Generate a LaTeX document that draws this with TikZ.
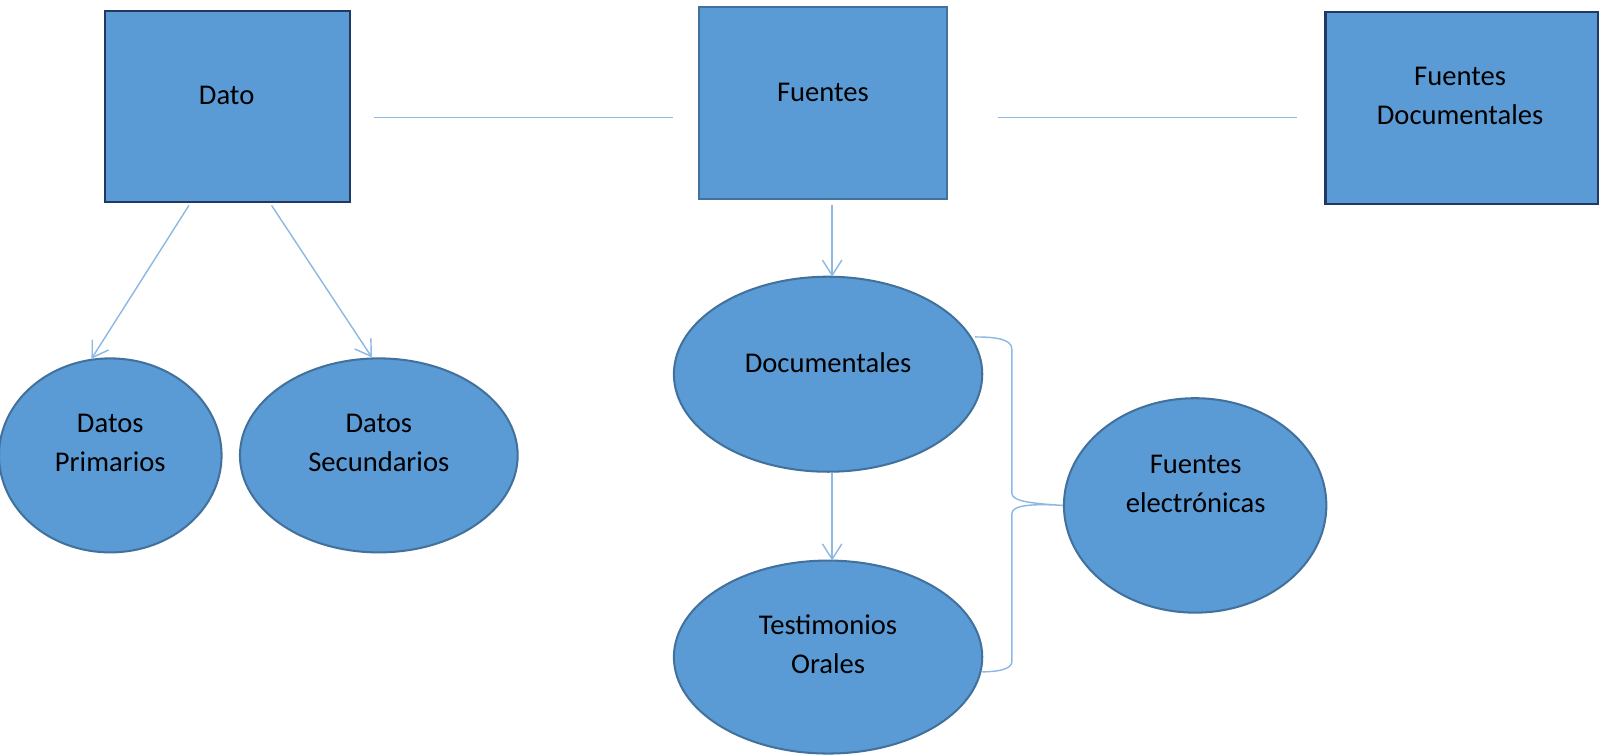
\documentclass[tikz,border=0pt]{standalone}
\usepackage{fontspec}
\setmainfont{Carlito}
\usetikzlibrary{shapes.geometric,arrows.meta}
\definecolor{fillb}{HTML}{5B9BD5}
\definecolor{edgeb}{HTML}{41719C}
\definecolor{darkb}{HTML}{1F3864}
\definecolor{connb}{HTML}{8DB8E3}
\begin{document}
\begin{tikzpicture}[x=1pt,y=-1pt,
  darkbox/.style={draw=darkb,line width=2.4pt,fill=fillb,rectangle,inner sep=0pt},
  midbox/.style={draw=edgeb,line width=2pt,fill=fillb,rectangle,inner sep=0pt},
  oval/.style={draw=edgeb,line width=2pt,fill=fillb,ellipse,inner sep=0pt},
  txt/.style={font=\fontsize{28}{38}\selectfont,align=center,text=black,inner sep=0pt},
  conn/.style={draw=connb,line width=1.4pt},
  arr/.style={conn,-{Straight Barb[length=15pt,width=19pt,line width=1.4pt]}}]
\useasboundingbox (0,0) rectangle (1568,740);
% boxes
\node[darkbox,minimum width=240pt,minimum height=187pt] (dato) at (223,104.5) {};
\node[midbox,minimum width=242pt,minimum height=188pt] (fuentes) at (806,101) {};
\node[darkbox,minimum width=267pt,minimum height=188pt] (fdoc) at (1431.5,106) {};
% ellipses
\node[oval,minimum width=218pt,minimum height=190pt] (prim) at (108,446) {};
\node[oval,minimum width=272pt,minimum height=190pt] (secu) at (371,446) {};
\node[oval,minimum width=302pt,minimum height=191pt] (docu) at (811,366.5) {};
\node[oval,minimum width=302pt,minimum height=189pt] (test) at (811,643.5) {};
\node[oval,minimum width=257pt,minimum height=210pt] (elec) at (1170.5,495) {};
% texts
\node[txt] (datoT) at (222,93) {Dato};
\node[txt] (fuentesT) at (806,91) {Fuentes};
\node[txt] (fdocT) at (1430,94) {Fuentes\\Documentales};
\node[txt] (primT) at (108,434) {Datos\\Primarios};
\node[txt] (secuT) at (371,434) {Datos\\Secundarios};
\node[txt] (docuT) at (811,355) {Documentales};
\node[txt] (testT) at (811,631) {Testimonios\\Orales};
\node[txt] (elecT) at (1171,474) {Fuentes\\electrónicas};
% horizontal lines
\draw[conn] ([xshift=22pt,yshift=-10.5pt]dato.east) -- ([xshift=-25pt,yshift=-14pt]fuentes.west);
\draw[conn] ([xshift=49pt,yshift=-14pt]fuentes.east) -- ([xshift=-27pt,yshift=-9pt]fdoc.west);
% arrows
\draw[arr] ([xshift=-38pt,yshift=-2pt]dato.south) -- (prim.101);
\draw[arr] ([xshift=43pt,yshift=-2pt]dato.south) -- (secu.94);
\draw[arr] ([xshift=9pt,yshift=-5pt]fuentes.south) -- ([xshift=4pt,yshift=-1pt]docu.north);
\draw[arr] ([xshift=4pt]docu.south) -- ([xshift=4pt,yshift=-1pt]test.north);
% brace
\coordinate (tip) at (elec.west);
\draw[conn] (955,330) .. controls (975,330) and (991,332) .. (991,342)
  -- (991,483) .. controls (991,491) and (1010,493) .. (tip)
  .. controls (1010,493) and (991,495) .. (991,503)
  -- (991,648) .. controls (991,656) and (975,658) .. (962,658);
\end{tikzpicture}
\end{document}
